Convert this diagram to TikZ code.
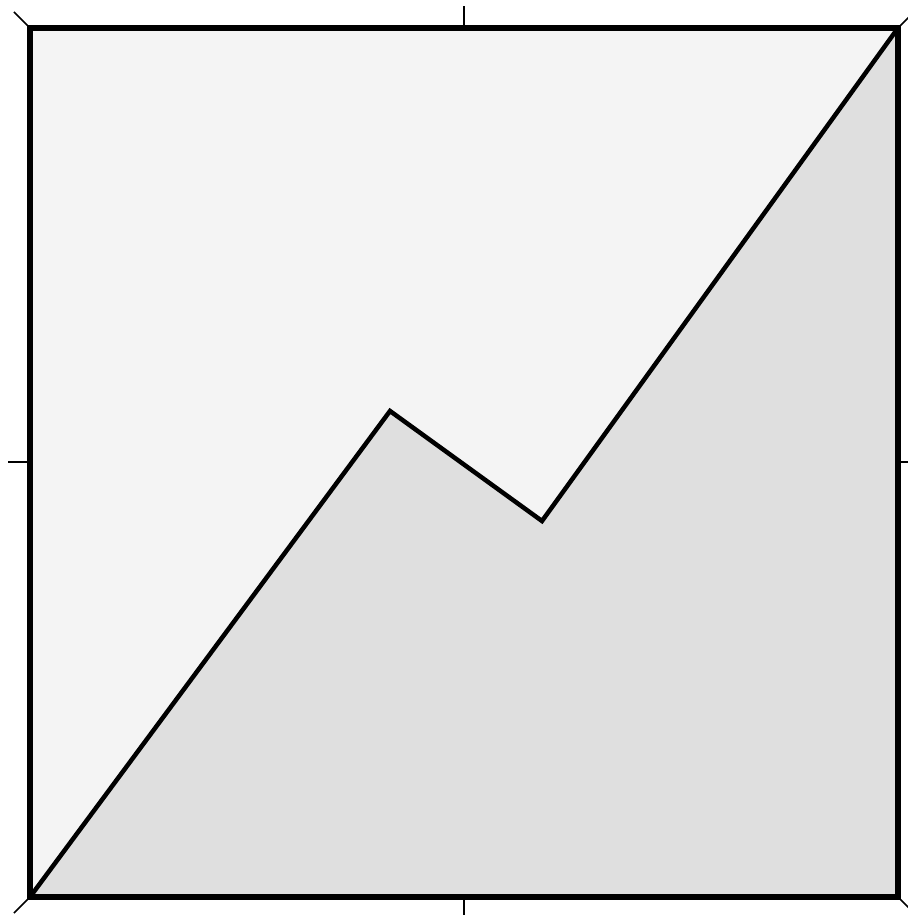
\documentclass[tikz,border=0pt]{standalone}
\definecolor{lightfill}{HTML}{F4F4F4}
\definecolor{darkfill}{HTML}{DFDFDF}
\begin{document}
\begin{tikzpicture}[x=1pt,y=-1pt,
  tick/.style={line width=1.5pt,black},
  frame/.style={line width=5.5pt,black,line join=miter},
  ridge/.style={line width=4.5pt,black,line join=miter}]
\useasboundingbox (0,0) rectangle (907,915);
\coordinate (bl) at (30,897);
\coordinate (tl) at (30,28);
\coordinate (tr) at (898,28);
\coordinate (br) at (898,897);
\coordinate (p1) at (390,411);
\coordinate (p2) at (542,521);
% ticks
\draw[tick] (464,28) -- (464,6);
\draw[tick] (464,897) -- (464,919);
\draw[tick] (30,462) -- (8,462);
\draw[tick] (898,462) -- (920,462);
\draw[tick] (tl) -- ++(-16,-16);
\draw[tick] (tr) -- ++(16,-16);
\draw[tick] (bl) -- ++(-16,16);
\draw[tick] (br) -- ++(16,16);
% fills
\fill[lightfill] (bl) -- (tl) -- (tr) -- (p2) -- (p1) -- cycle;
\fill[darkfill] (bl) -- (p1) -- (p2) -- (tr) -- (br) -- cycle;
\draw[ridge] (bl) -- (p1) -- (p2) -- (tr);
\draw[frame] (bl) rectangle (tr);
\end{tikzpicture}
\end{document}
